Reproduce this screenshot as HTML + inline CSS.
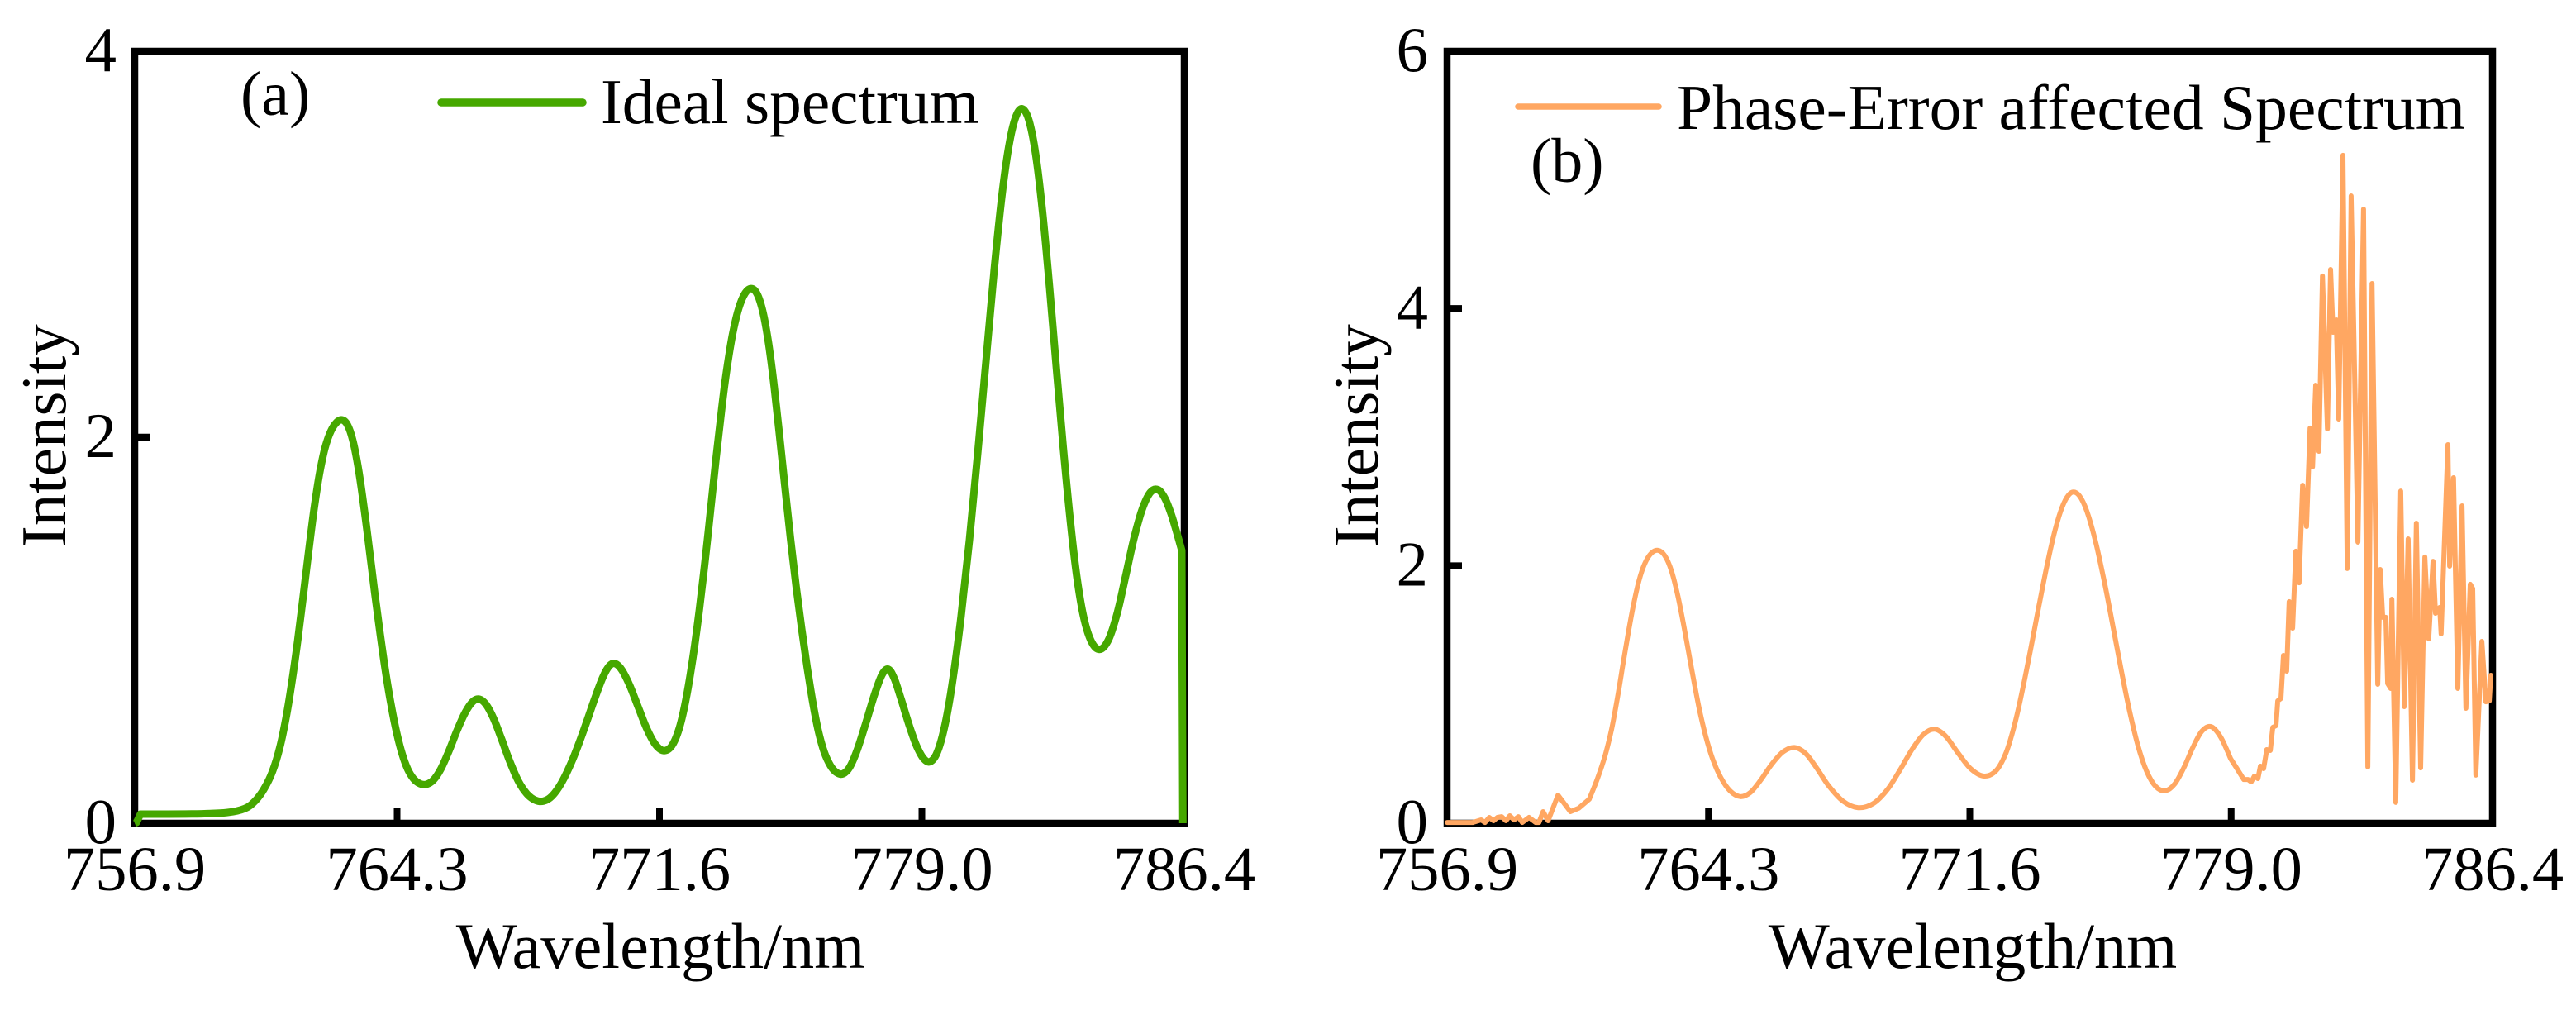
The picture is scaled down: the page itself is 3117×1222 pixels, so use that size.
<!DOCTYPE html>
<html lang="en">
<head>
<meta charset="utf-8">
<title>Ideal and phase-error affected spectra</title>
<style>
html,body{margin:0;padding:0;background:#fff;width:3117px;height:1222px;overflow:hidden}
svg{display:block}
text{font-family:"Liberation Serif","Times New Roman",serif;fill:#000}
</style>
</head>
<body>
<svg id="figure" width="3117" height="1222" viewBox="0 0 3117 1222" xmlns="http://www.w3.org/2000/svg">
  <rect x="0" y="0" width="3117" height="1222" fill="#fff"/>
  <g id="panel-a">
    <text x="291" y="139" font-size="76">(a)</text>
    <line x1="534" y1="124" x2="705" y2="124" stroke="#46a800" stroke-width="9.5" stroke-linecap="round"/>
    <text x="727" y="149" font-size="77.4">Ideal spectrum</text>
    <text x="799" y="1171" font-size="78.4" text-anchor="middle">Wavelength/nm</text>
    <text transform="translate(79 527) rotate(-90)" font-size="77" text-anchor="middle">Intensity</text>
  </g>
  <g id="panel-b">
    <text x="1852" y="220" font-size="76">(b)</text>
    <line x1="1837" y1="129" x2="2007" y2="129" stroke="#ffa762" stroke-width="7.5" stroke-linecap="round"/>
    <text x="2029" y="156" font-size="77.5">Phase-Error affected Spectrum</text>
    <text x="2387" y="1171" font-size="78.4" text-anchor="middle">Wavelength/nm</text>
    <text transform="translate(1667 527) rotate(-90)" font-size="77" text-anchor="middle">Intensity</text>
  </g>
</svg>
<script>
const xTickValues = [756.9, 764.275, 771.65, 779.025, 786.4];
const xTickLabels = ["756.9", "764.3", "771.6", "779.0", "786.4"];
const yTicksA = [0, 2, 4];
const yTicksB = [0, 2, 4, 6];

const wavelengthA = [756.9,756.95,757.06,758.92,759.46,759.92,760.24,760.55,760.78,760.96,761.17,761.31,761.48,761.64,761.78,761.94,762.10,762.24,762.41,762.59,762.73,762.87,763.03,763.17,763.33,763.50,763.64,763.80,763.96,764.10,764.26,764.43,764.57,764.73,764.91,765.10,765.31,765.49,765.73,765.96,766.19,766.40,766.59,766.77,766.98,767.21,767.45,767.68,767.91,768.17,768.40,768.63,768.86,769.21,769.54,769.84,770.07,770.26,770.40,770.58,770.81,771.07,771.30,771.53,771.79,772.00,772.21,772.39,772.58,772.79,772.93,773.09,773.25,773.39,773.55,773.72,773.86,774.07,774.23,774.41,774.55,774.72,774.88,775.02,775.18,775.34,775.48,775.65,775.81,775.95,776.11,776.27,776.46,776.64,776.81,776.99,777.20,777.43,777.74,777.92,778.08,778.25,778.43,778.67,778.90,779.08,779.27,779.48,779.66,779.90,780.13,780.36,780.59,780.83,781.06,781.29,781.50,781.68,781.85,782.03,782.22,782.43,782.61,782.80,783.01,783.19,783.38,783.59,783.78,784.05,784.29,784.52,784.75,784.98,785.21,785.45,785.66,785.87,786.05,786.21,786.33,786.36];
const intensityA = [0,0.004,0.047,0.047,0.056,0.077,0.111,0.184,0.27,0.381,0.552,0.741,0.938,1.169,1.409,1.623,1.812,1.953,2.03,2.073,2.081,2.069,1.996,1.854,1.653,1.426,1.182,0.981,0.784,0.612,0.467,0.355,0.283,0.231,0.206,0.206,0.223,0.27,0.368,0.484,0.582,0.63,0.638,0.617,0.552,0.441,0.313,0.21,0.154,0.124,0.116,0.141,0.206,0.313,0.48,0.668,0.769,0.809,0.818,0.801,0.732,0.591,0.48,0.403,0.377,0.407,0.48,0.647,0.852,1.113,1.37,1.632,1.893,2.154,2.355,2.544,2.672,2.745,2.767,2.737,2.655,2.488,2.266,1.987,1.743,1.465,1.225,1.002,0.814,0.63,0.48,0.368,0.296,0.266,0.266,0.287,0.351,0.518,0.694,0.779,0.797,0.754,0.649,0.497,0.385,0.343,0.321,0.377,0.497,0.737,1.088,1.456,1.914,2.377,2.878,3.315,3.533,3.653,3.687,3.642,3.49,3.182,2.745,2.353,1.961,1.567,1.259,1.064,0.942,0.899,0.942,1.088,1.283,1.478,1.632,1.719,1.73,1.687,1.589,1.478,1.413,0];

const wavelengthB = [756.90,757.62,757.86,757.97,758.09,758.21,758.32,758.44,758.56,758.67,758.79,758.91,759.02,759.21,759.40,759.49,759.61,759.75,760.03,760.38,760.61,760.91,761.14,761.38,761.54,761.70,761.84,762.01,762.17,762.31,762.47,762.64,762.85,763.06,763.22,763.41,763.57,763.71,763.87,764.04,764.18,764.39,764.62,764.88,765.20,765.46,765.74,766.04,766.37,766.72,767.02,767.32,767.67,768.02,768.54,768.93,769.31,769.70,770.01,770.33,770.68,770.99,771.29,771.64,772.08,772.43,772.66,772.90,773.13,773.36,773.60,773.83,774.06,774.25,774.44,774.62,774.79,775.00,775.23,775.46,775.70,775.93,776.16,776.40,776.63,776.89,777.17,777.45,777.70,777.94,778.21,778.47,778.73,779.01,779.19,779.38,779.50,779.59,779.68,779.78,779.85,779.94,780.03,780.13,780.20,780.29,780.34,780.43,780.50,780.59,780.66,780.76,780.85,780.94,781.04,781.15,781.25,781.32,781.41,781.50,781.60,781.74,781.83,781.90,781.99,782.06,782.18,782.30,782.41,782.60,782.76,782.88,783.00,783.16,783.23,783.30,783.39,783.44,783.53,783.56,783.67,783.81,783.91,784.02,784.14,784.25,784.37,784.49,784.60,784.72,784.79,784.91,784.95,785.14,785.19,785.30,785.42,785.54,785.65,785.77,785.84,785.93,786.10,786.21,786.31,786.35];
const intensityB = [0.006,0.006,0.026,0.006,0.045,0.019,0.045,0.051,0.019,0.058,0.026,0.051,0.006,0.045,0.006,0.006,0.09,0.019,0.218,0.09,0.116,0.186,0.34,0.533,0.726,0.957,1.214,1.471,1.709,1.882,2.011,2.094,2.12,2.081,1.979,1.773,1.535,1.343,1.086,0.874,0.681,0.507,0.36,0.244,0.199,0.231,0.328,0.456,0.565,0.597,0.552,0.437,0.283,0.167,0.109,0.148,0.251,0.424,0.565,0.70,0.745,0.694,0.552,0.405,0.347,0.411,0.552,0.764,1.021,1.343,1.69,2.011,2.287,2.46,2.544,2.563,2.525,2.396,2.158,1.857,1.516,1.176,0.874,0.597,0.405,0.283,0.251,0.296,0.424,0.597,0.732,0.764,0.694,0.501,0.424,0.34,0.34,0.321,0.366,0.347,0.443,0.424,0.572,0.565,0.745,0.758,0.951,0.97,1.304,1.182,1.722,1.516,2.114,1.869,2.627,2.306,3.071,2.769,3.405,2.891,4.253,3.064,4.304,3.816,3.912,3.141,5.191,1.979,4.876,2.184,4.773,0.437,4.195,1.079,1.972,1.6,1.6,1.086,1.047,1.741,0.161,2.582,0.906,2.21,0.334,2.332,0.43,2.069,1.433,2.036,1.632,1.677,1.471,2.942,1.998,2.685,1.047,2.467,0.893,1.857,1.824,0.373,1.413,0.944,0.951,1.15];

const SVG_NS = "http://www.w3.org/2000/svg";
const xMin = 756.9, xMax = 786.4;
const plotA = { left: 163, right: 1433, top: 62, bottom: 996, yMax: 4, labelX: 141 };
const plotB = { left: 1751, right: 3016, top: 62, bottom: 996, yMax: 6, labelX: 1728 };

function xScale(plot, w) { return plot.left + (w - xMin) / (xMax - xMin) * (plot.right - plot.left); }
function yScale(plot, v) { return plot.bottom - v / plot.yMax * (plot.bottom - plot.top); }

/* Shape-preserving low-pass pass over the screen points of the smooth stretch,
   removing hand-reading jitter without flattening the peaks. */
function fairStretch(pts, first, last) {
  function pass(weight) {
    const copy = pts.map(p => p.slice());
    for (let i = first + 1; i < last; i++) {
      for (let k = 0; k < 2; k++) {
        pts[i][k] = copy[i][k] + weight * ((copy[i - 1][k] + copy[i + 1][k]) / 2 - copy[i][k]);
      }
    }
  }
  for (let n = 0; n < 6; n++) { pass(0.5); pass(-0.503); }
}

function curvePath(plot, wave, vals, smoothFrom, smoothTo) {
  const pts = wave.map((w, i) => [xScale(plot, w), yScale(plot, vals[i])]);
  let first = wave.findIndex(w => w >= smoothFrom);
  let last = first;
  while (last + 1 < wave.length && wave[last + 1] <= smoothTo) last++;
  fairStretch(pts, first, last);
  let d = "M" + pts[0][0].toFixed(1) + " " + pts[0][1].toFixed(1);
  for (let i = 1; i < pts.length; i++) {
    const p1 = pts[i - 1], p2 = pts[i];
    if (i > first && i <= last) {
      const p0 = pts[Math.max(first, i - 2)], p3 = pts[Math.min(last, i + 1)];
      const c1x = p1[0] + (p2[0] - p0[0]) / 6, c1y = p1[1] + (p2[1] - p0[1]) / 6;
      const c2x = p2[0] - (p3[0] - p1[0]) / 6, c2y = p2[1] - (p3[1] - p1[1]) / 6;
      d += "C" + c1x.toFixed(1) + " " + c1y.toFixed(1) + " " + c2x.toFixed(1) + " " + c2y.toFixed(1) + " " + p2[0].toFixed(1) + " " + p2[1].toFixed(1);
    } else {
      d += "L" + p2[0].toFixed(1) + " " + p2[1].toFixed(1);
    }
  }
  return d;
}

function drawAxes(group, plot, yTicks, suffix) {
  const frame = document.createElementNS(SVG_NS, "rect");
  
  
  frame.setAttribute("x", plot.left);
  frame.setAttribute("y", plot.top);
  frame.setAttribute("width", plot.right - plot.left);
  frame.setAttribute("height", plot.bottom - plot.top);
  frame.setAttribute("fill", "none");
  frame.setAttribute("stroke", "#000");
  frame.setAttribute("stroke-width", "8.5");
  group.appendChild(frame);

  xTickValues.forEach((value, i) => {
    const px = xScale(plot, value);
    if (i > 0 && i < xTickValues.length - 1) {
      const tick = document.createElementNS(SVG_NS, "line");
      
      
      tick.setAttribute("x1", px);
      tick.setAttribute("x2", px);
      tick.setAttribute("y1", plot.bottom);
      tick.setAttribute("y2", plot.bottom - 18);
      tick.setAttribute("stroke", "#000");
      tick.setAttribute("stroke-width", "8");
      group.appendChild(tick);
    }
    const label = document.createElementNS(SVG_NS, "text");
    
    
    label.setAttribute("x", px);
    label.setAttribute("y", 1077);
    label.setAttribute("font-size", "76.5");
    label.setAttribute("text-anchor", "middle");
    label.textContent = xTickLabels[i];
    group.appendChild(label);
  });

  yTicks.forEach((value, i) => {
    const py = yScale(plot, value);
    if (i > 0 && i < yTicks.length - 1) {
      const tick = document.createElementNS(SVG_NS, "line");
      
      
      tick.setAttribute("x1", plot.left);
      tick.setAttribute("x2", plot.left + 18);
      tick.setAttribute("y1", py);
      tick.setAttribute("y2", py);
      tick.setAttribute("stroke", "#000");
      tick.setAttribute("stroke-width", "8.5");
      group.appendChild(tick);
    }
    const label = document.createElementNS(SVG_NS, "text");
    
    
    label.setAttribute("x", plot.labelX);
    label.setAttribute("y", py + 24);
    label.setAttribute("font-size", "77");
    label.setAttribute("text-anchor", "end");
    label.textContent = String(value);
    group.appendChild(label);
  });
}

const groupA = document.getElementById("panel-a");
const groupB = document.getElementById("panel-b");
drawAxes(groupA, plotA, yTicksA, "a");
drawAxes(groupB, plotB, yTicksB, "b");

const lineA = document.createElementNS(SVG_NS, "path");


lineA.setAttribute("d", curvePath(plotA, wavelengthA, intensityA, 757.0, 786.33));
lineA.setAttribute("fill", "none");
lineA.setAttribute("stroke", "#46a800");
lineA.setAttribute("stroke-width", "9");
lineA.setAttribute("stroke-linejoin", "round");
lineA.setAttribute("stroke-linecap", "butt");
groupA.appendChild(lineA);

const lineB = document.createElementNS(SVG_NS, "path");


lineB.setAttribute("d", curvePath(plotB, wavelengthB, intensityB, 760.9, 779.02));
lineB.setAttribute("fill", "none");
lineB.setAttribute("stroke", "#ffa762");
lineB.setAttribute("stroke-width", "6");
lineB.setAttribute("stroke-linejoin", "round");
lineB.setAttribute("stroke-linecap", "round");
groupB.appendChild(lineB);
</script>
</body>
</html>
